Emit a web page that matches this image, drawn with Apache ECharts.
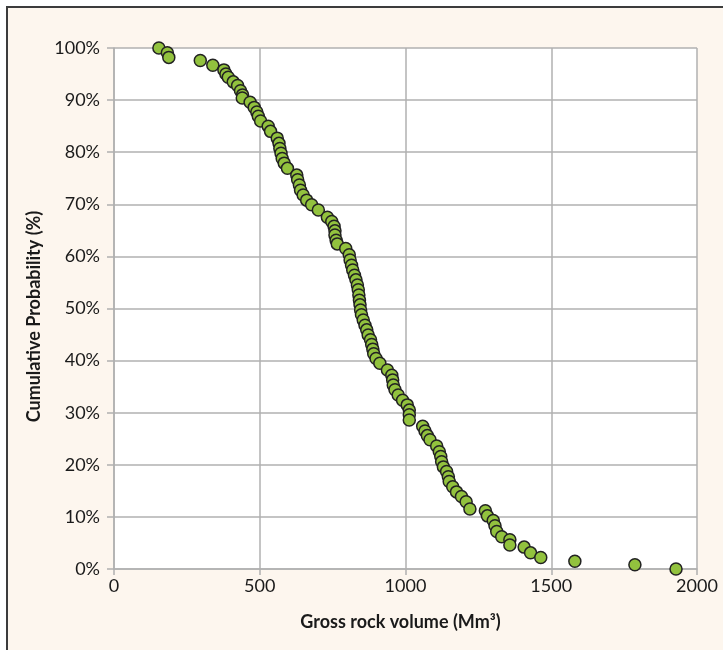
<!DOCTYPE html>
<html>
<head>
<meta charset="utf-8">
<script src="https://cdn.jsdelivr.net/npm/echarts@6/dist/echarts.min.js"></script>
<style>
html,body{margin:0;padding:0;background:#ffffff;}
#frame{position:absolute;left:6px;top:6px;width:760px;height:700px;background:#fdf6ee;border:2px solid #3c3c3c;box-sizing:border-box;}
#chart{position:absolute;left:0;top:0;width:723px;height:650px;}
</style>
</head>
<body>
<div id="frame"></div>
<div id="chart"></div>
<script>
// Gross rock volume (Mm³)
const volumes = [
  154, 183, 188, 296, 339, 377, 384, 392, 409, 424, 434, 441, 440, 467, 481, 490, 495, 503, 529, 537, 560, 566,
  569, 573, 577, 584, 595, 627, 630, 636, 640, 649, 661, 678, 701, 732, 747, 755, 758, 758, 762, 766,
  795, 807, 810, 815, 819, 825, 830, 835, 838, 840, 842, 844, 846, 849, 855, 861, 867, 872,
  880, 884, 888, 891, 899, 912, 938, 953, 956, 958, 964, 975, 990, 1006, 1013, 1013, 1013,
  1059, 1067, 1075, 1084, 1107, 1116, 1121, 1124, 1130, 1141, 1147, 1150, 1162, 1175, 1192, 1208, 1221,
  1274, 1281, 1301, 1307, 1313, 1330, 1358, 1358, 1407, 1429, 1464, 1581, 1787, 1928
];
// Cumulative probability (%)
const probabilities = [
  100.0, 99.1, 98.2, 97.6, 96.7, 95.8, 95.0, 94.4, 93.5, 92.8, 91.8, 91.0, 90.4, 89.6, 88.6, 87.7, 86.9, 86.0, 85.0, 84.0, 82.7, 81.7,
  80.7, 79.8, 78.8, 77.9, 76.9, 75.6, 74.7, 73.7, 72.7, 71.8, 70.8, 69.9, 68.9, 67.5, 66.7, 65.8, 64.9, 64.1, 63.1, 62.4,
  61.5, 60.3, 59.3, 58.3, 57.4, 56.4, 55.5, 54.5, 53.6, 52.6, 51.6, 50.7, 49.7, 48.8, 47.8, 46.8, 45.9, 44.9,
  44.0, 43.1, 42.2, 41.3, 40.4, 39.5, 38.2, 37.2, 36.3, 35.3, 34.4, 33.4, 32.4, 31.5, 30.5, 29.6, 28.6,
  27.4, 26.5, 25.6, 24.8, 23.6, 22.5, 21.6, 20.6, 19.6, 18.7, 17.7, 16.8, 15.8, 14.8, 13.9, 12.9, 11.5,
  11.2, 10.2, 9.3, 8.3, 7.2, 6.2, 5.6, 4.6, 4.2, 3.1, 2.2, 1.5, 0.8, 0.0
];
const xTitle = 'Gross rock volume (Mm³)';
const yTitle = 'Cumulative Probability (%)';

const points = volumes.map((v, i) => [v, probabilities[i]]);
const chart = echarts.init(document.getElementById('chart'), null, {renderer: 'canvas'});
const font = 'Lato, "Open Sans", sans-serif';
const gridLine = {show: true, lineStyle: {color: '#b0b0b0', width: 1.5}};
chart.setOption({
  backgroundColor: 'transparent',
  animation: false,
  grid: {left: 114, right: 26, top: 48, bottom: 81, show: true, backgroundColor: '#ffffff', borderWidth: 0},
  xAxis: {
    type: 'value', min: 0, max: 2000, interval: 500,
    name: xTitle, nameLocation: 'middle', nameGap: 44,
    nameTextStyle: {fontFamily: font, fontWeight: 'bold', fontSize: 18, color: '#1a1a1a', padding: [0, 10, 0, 0]},
    axisLine: {show: true, lineStyle: {color: '#b0b0b0', width: 1.5}},
    axisTick: {show: true, length: 6, lineStyle: {color: '#b0b0b0', width: 1.5}},
    axisLabel: {fontFamily: font, fontSize: 18, color: '#1a1a1a', margin: 8, formatter: function (v) { return String(v); }},
    splitLine: gridLine
  },
  yAxis: {
    type: 'value', min: 0, max: 100, interval: 10,
    name: yTitle, nameLocation: 'middle', nameGap: 63, nameRotate: 90,
    nameTextStyle: {fontFamily: font, fontWeight: 'bold', fontSize: 18, color: '#1a1a1a', padding: [0, 16, 0, 0]},
    axisLine: {show: true, lineStyle: {color: '#b0b0b0', width: 1.5}},
    axisTick: {show: true, length: 7, lineStyle: {color: '#b0b0b0', width: 1.5}},
    axisLabel: {fontFamily: font, fontSize: 18, color: '#1a1a1a', margin: 14, formatter: '{value}%'},
    splitLine: gridLine
  },
  series: [{
    type: 'scatter',
    data: points,
    symbol: 'circle',
    symbolSize: 12,
    itemStyle: {color: '#92c23e', borderColor: '#222222', borderWidth: 1.5, opacity: 1}
  }]
});
</script>
</body>
</html>
